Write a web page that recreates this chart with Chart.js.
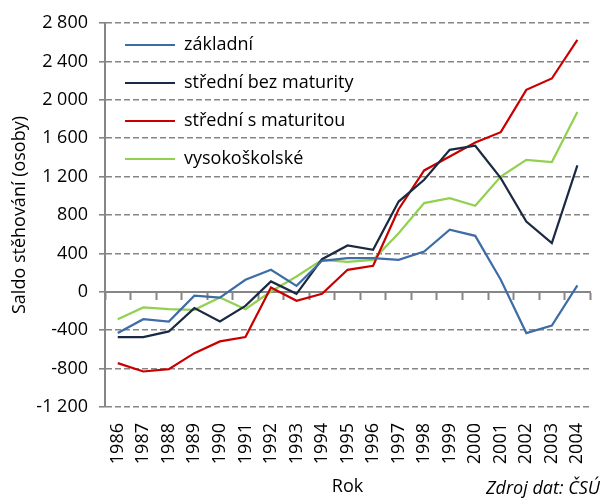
<!DOCTYPE html>
<html>
<head>
<meta charset="utf-8">
<script src="https://cdn.jsdelivr.net/npm/chart.js@4"></script>
<style>
  body { margin: 0; background: #fff; }
  #wrap { position: relative; width: 607px; height: 500px; }
  #zdroj { position: absolute; right: 7px; top: 475px; font: italic 18px "Open Sans", sans-serif; color: #000; }
</style>
</head>
<body>
<div id="wrap">
  <canvas id="saldoChart" width="607" height="500"></canvas>
  <div id="zdroj">Zdroj dat: ČSÚ</div>
</div>
<script>
const roky = ['1986', '1987', '1988', '1989', '1990', '1991', '1992', '1993', '1994', '1995',
  '1996', '1997', '1998', '1999', '2000', '2001', '2002', '2003', '2004'];
const zakladni = [-430, -285, -310, -40, -60, 125, 229, 62, 323, 351, 351, 333, 420, 646, 583, 125, -430, -351, 66];
const stredniBezMaturity = [-472, -472, -413, -170, -309, -146, 108, -21, 340, 483, 437, 940, 1167, 1479, 1521, 1184, 732, 507, 1316];
const stredniSMaturitou = [-743, -830, -806, -639, -517, -472, 45, -94, -21, 229, 271, 860, 1264, 1410, 1555, 1663, 2104, 2222, 2625];
const vysokoskolske = [-285, -163, -181, -188, -59, -181, 3, 160, 333, 312, 333, 611, 924, 976, 896, 1201, 1375, 1351, 1872];
const yMin = -1200, yMax = 2800, yStep = 400;

const gray = '#868686';
const font = { family: '"Open Sans", sans-serif', size: 18 };

function fmt(v) {
  const s = String(Math.abs(v)).replace(/\B(?=(\d{3})+(?!\d))/g, ' ');
  return (v < 0 ? '-' : '') + s;
}

function line(label, data, color) {
  return { label: label, data: data, borderColor: color, backgroundColor: color,
    borderWidth: 2.2, pointRadius: 0, tension: 0, fill: false, xAxisID: 'x', yAxisID: 'y' };
}

const ctx = document.getElementById('saldoChart');

new Chart(ctx, {
  type: 'line',
  data: {
    labels: roky,
    datasets: [
      line('základní', zakladni, '#3E6CA6'),
      line('střední bez maturity', stredniBezMaturity, '#1B2A42'),
      line('střední s maturitou', stredniSMaturitou, '#C80000'),
      line('vysokoškolské', vysokoskolske, '#92D050')
    ]
  },
  options: {
    responsive: false,
    animation: false,
    layout: { padding: { top: 23, right: 1, left: 0, bottom: 0 } },
    plugins: {
      tooltip: { enabled: false },
      legend: {
        position: 'chartArea',
        align: 'start',
        // empty title only pushes the entries down inside the plot
        title: { display: true, text: ' ', font: { size: 12, lineHeight: 1 }, padding: { top: 0, bottom: 4 } },
        labels: {
          color: '#000',
          font: font,
          usePointStyle: true,
          pointStyle: 'line',
          pointStyleWidth: 50,
          boxHeight: 2,
          padding: 20
        }
      }
    },
    scales: {
      x: {
        type: 'category',
        offset: true,
        afterFit: function(scale) { scale.height = 93; },
        grid: { display: false },
        border: { display: false },
        ticks: { color: '#000', font: font, minRotation: 90, maxRotation: 90, padding: 8, autoSkip: false },
        title: { display: true, text: 'Rok', color: '#000', font: font, padding: { top: 0, bottom: 2 } }
      },
      x2: {
        type: 'category',
        position: { y: 0 },
        offset: true,
        grid: { offset: true, drawOnChartArea: false, drawTicks: true, tickLength: 7, tickColor: gray, tickWidth: 2 },
        border: { display: true, color: gray, width: 2 },
        ticks: { display: false }
      },
      y: {
        min: yMin,
        max: yMax,
        afterFit: function(scale) { scale.width = 105; },
        grid: {
          color: function(c) { return c.tick && c.tick.value === 0 ? 'rgba(0,0,0,0)' : gray; },
          lineWidth: 1.6,
          tickLength: 6,
          tickColor: gray,
          tickWidth: 1.6,
          tickBorderDash: []
        },
        border: { display: true, color: gray, width: 2, dash: [6, 3] },
        ticks: { stepSize: yStep, color: '#000', font: font, padding: 11, callback: function(v) { return fmt(v); } },
        title: { display: true, text: 'Saldo stěhování (osoby)', color: '#000', font: font, padding: { top: 9, bottom: 0 } }
      }
    }
  }
});
</script>
</body>
</html>
